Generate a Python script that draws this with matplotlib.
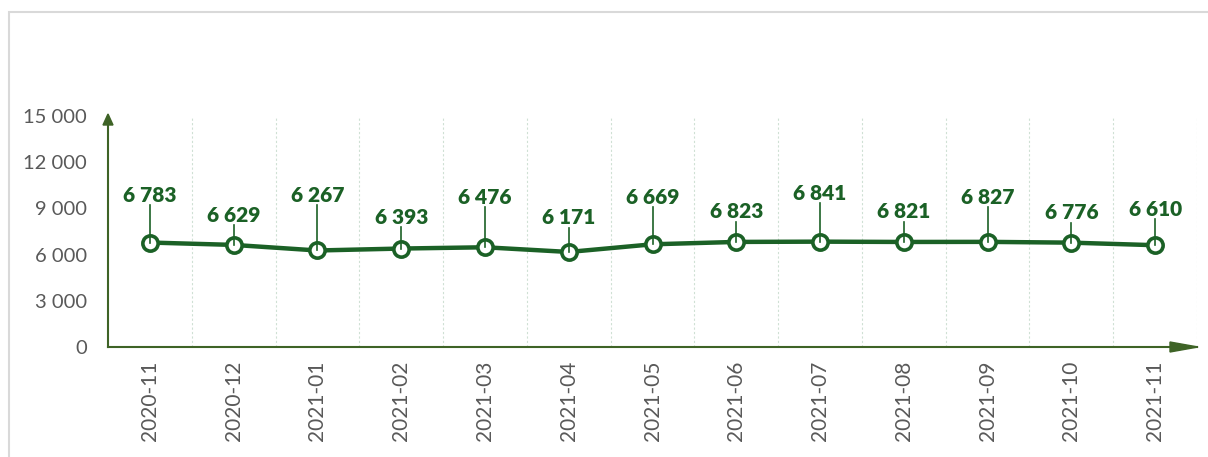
import matplotlib
matplotlib.use("Agg")
import matplotlib.pyplot as plt
from matplotlib.patches import Rectangle, Polygon

months = ["2020-11", "2020-12", "2021-01", "2021-02", "2021-03", "2021-04", "2021-05",
          "2021-06", "2021-07", "2021-08", "2021-09", "2021-10", "2021-11"]
values = [6783, 6629, 6267, 6393, 6476, 6171, 6669, 6823, 6841, 6821, 6827, 6776, 6610]
yticks = [0, 3000, 6000, 9000, 12000, 15000]
# label heights (data units) as in the reference
label_y = [9840, 8540, 9870, 8440, 9740, 8380, 9740, 8770, 10000, 8770, 9710, 8730, 8930]

LINE = "#1B6126"
AXIS = "#3E6326"
TXT = "#595959"
plt.rcParams['font.family'] = ['Lato', 'DejaVu Sans']

W, H = 1208, 457
fig = plt.figure(figsize=(W / 100, H / 100), dpi=100)
fig.patches.append(Rectangle((9/W, -0.01), 1.2, 1 - 12/H + 0.01, transform=fig.transFigure,
                             fill=False, edgecolor="#D9D9D9", linewidth=1.5))
ax = fig.add_axes([108/W, 1 - 347/H, (1197-108)/W, (347-116)/H])
x = list(range(len(months)))
ax.set_xlim(-0.5, len(months) - 0.5)
ax.set_ylim(0, 15000)

for b in range(len(months)):
    ax.axvline(b + 0.5, color="#CFE0D4", linestyle=(0, (2, 2)), linewidth=0.8, zorder=0)

ax.plot(x, values, color=LINE, linewidth=3.2, marker="o", markersize=11,
        markerfacecolor="white", markeredgecolor=LINE, markeredgewidth=2.6, zorder=3)

def fmt(v):
    return f"{v:,}".replace(",", " ")

for xi, v, ly in zip(x, values, label_y):
    ax.text(xi, ly, fmt(v), ha="center", va="center", color=LINE, fontsize=15,
            fontweight="heavy", zorder=5)
    ax.plot([xi, xi], [ly - 650, v], color=LINE, linewidth=1.2, zorder=4)

for s in ["top", "right"]:
    ax.spines[s].set_visible(False)
for s in ["left", "bottom"]:
    ax.spines[s].set_color(AXIS)
    ax.spines[s].set_linewidth(1.5)

def px(xp, yp):
    return (xp / W, 1 - yp / H)

fig.patches.append(Polygon([px(1198, 347), px(1170, 342), px(1170, 352)], closed=True,
                           transform=fig.transFigure, color=AXIS, zorder=6))
fig.patches.append(Polygon([px(108, 114), px(103, 125), px(113, 125)], closed=True,
                           transform=fig.transFigure, color=AXIS, zorder=6))

ax.set_yticks(yticks)
ax.set_yticklabels([fmt(t) for t in yticks], color=TXT, fontsize=14.5)
ax.set_xticks(x)
ax.set_xticklabels(months, rotation=90, color=TXT, fontsize=15)
ax.tick_params(axis="both", length=0)
ax.tick_params(axis="x", pad=10)
ax.tick_params(axis="y", pad=15)

fig.savefig("out.png", dpi=100)
